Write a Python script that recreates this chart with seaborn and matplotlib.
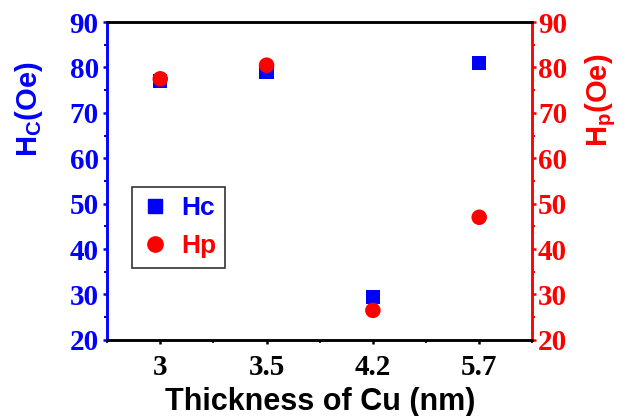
import pandas as pd
import matplotlib
matplotlib.use("Agg")
import matplotlib.pyplot as plt
import seaborn as sns
from matplotlib.ticker import MultipleLocator
from matplotlib.lines import Line2D

# data
thickness = ["3", "3.5", "4.2", "5.7"]
hc_values = [77, 79, 29.5, 81]
hp_values = [77.5, 80.5, 26.5, 47]

df = pd.DataFrame({"thickness": thickness, "Hc": hc_values, "Hp": hp_values})

sns.set_style("white")
plt.rcParams["mathtext.fontset"] = "custom"
plt.rcParams["mathtext.rm"] = "Liberation Sans:bold"
plt.rcParams["mathtext.bf"] = "Liberation Sans:bold"

BLUE = "#0000ff"
RED = "#ff0000"
tick_font = {"family": "Liberation Serif", "weight": "bold", "size": 21}
label_font = {"family": "Liberation Sans", "weight": "bold"}

fig = plt.figure(figsize=(6.3, 4.16), dpi=100)
ax = fig.add_axes([0.17, 0.183, 0.675, 0.764])
ax2 = ax.twinx()

sns.scatterplot(data=df, x="thickness", y="Hc", ax=ax, marker="s", s=105,
                color=BLUE, edgecolor="none", zorder=3)
sns.scatterplot(data=df, x="thickness", y="Hp", ax=ax2, marker="o", s=125,
                color=RED, edgecolor="none", zorder=3)

ax.set_xlim(-0.5, len(thickness) - 0.5)
for a in (ax, ax2):
    a.set_ylim(20, 90)
    a.yaxis.set_major_locator(MultipleLocator(10))
    a.yaxis.set_minor_locator(MultipleLocator(5))

ax.set_xticks(range(len(thickness)))
ax.set_xticklabels(thickness)
ax.xaxis.set_minor_locator(MultipleLocator(0.5))

# spines
for a in (ax, ax2):
    for sp in a.spines.values():
        sp.set_linewidth(1.8)
        sp.set_color("black")
    a.spines["left"].set_color(BLUE)
    a.spines["right"].set_color(RED)

# ticks
ax.tick_params(axis="x", which="major", direction="out", length=3, width=1.8,
               colors="black", pad=7, bottom=True, top=False)
ax.tick_params(axis="x", which="minor", direction="out", length=2.5, width=1.5,
               bottom=True, top=False)
ax.tick_params(axis="y", which="major", direction="out", length=3, width=1.8,
               colors=BLUE, left=True, right=False, pad=3)
ax.tick_params(axis="y", which="minor", direction="out", length=2, width=1.5,
               colors=BLUE, left=True, right=False)
ax2.tick_params(axis="y", which="major", direction="out", length=3, width=1.8,
                colors=RED, right=True, left=False, pad=1)
ax2.tick_params(axis="y", which="minor", direction="out", length=2, width=1.5,
                colors=RED, right=True, left=False)

for lbl in ax.get_xticklabels() + ax.get_yticklabels() + ax2.get_yticklabels():
    lbl.set_fontproperties(tick_font)

ax.set_xlabel("Thickness of Cu (nm)", fontsize=22, color="black", **label_font)
ax.xaxis.set_label_coords(0.5, -0.148)
ax.xaxis.label.set_va("top")
ax.set_ylabel(r"H$_\mathregular{C}$(Oe)", fontsize=21, color=BLUE, **label_font)
ax.yaxis.set_label_coords(-0.145, 0.726)
ax2.set_ylabel(r"H$_\mathregular{p}$(Oe)", fontsize=21, color=RED, **label_font)
ax2.yaxis.set_label_coords(1.12, 0.755)

# legend
handles = [
    Line2D([], [], marker="s", linestyle="none", color=BLUE, markersize=10),
    Line2D([], [], marker="o", linestyle="none", color=RED, markersize=11),
]
leg = ax.legend(handles, ["Hc", "Hp"], loc="upper left", bbox_to_anchor=(0.059, 0.482),
                borderaxespad=0, frameon=True, fancybox=False, handletextpad=0.5,
                handlelength=1.0, borderpad=0.35, labelspacing=0.55,
                prop={"family": "Liberation Sans", "weight": "bold", "size": 19})
leg.get_frame().set_edgecolor("black")
leg.get_frame().set_linewidth(1.2)
for txt, c in zip(leg.get_texts(), [BLUE, RED]):
    txt.set_color(c)
if ax2.get_legend() is not None:
    ax2.get_legend().remove()

fig.savefig("out.png", dpi=100)
